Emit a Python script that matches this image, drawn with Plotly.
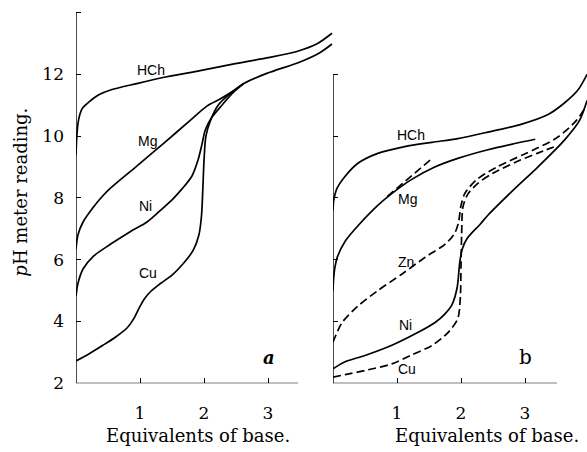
import plotly.graph_objects as go

# ---------------- data ----------------
# panel a
hch_a_x = [0, 0.01, 0.03, 0.06, 0.1, 0.2, 0.35, 0.55, 0.95, 1.42, 1.94, 2.45, 2.98, 3.45, 3.76, 4.0]
hch_a_y = [9.4, 9.9, 10.4, 10.7, 10.9, 11.1, 11.33, 11.5, 11.7, 11.92, 12.12, 12.33, 12.53, 12.74, 12.98, 13.33]

mg_a_x = [0, 0.03, 0.11, 0.27, 0.42, 0.53, 0.95, 1.36, 1.78, 2.05, 2.25, 2.45, 2.62, 2.98, 3.5, 3.81, 4.0]
mg_a_y = [6.34, 6.8, 7.22, 7.7, 8.07, 8.3, 9.03, 9.75, 10.5, 10.98, 11.2, 11.45, 11.7, 12.03, 12.4, 12.7, 12.98]

ni_a_x = [0, 0.03, 0.11, 0.27, 0.53, 0.84, 1.11, 1.31, 1.52, 1.66, 1.81, 1.91, 1.97, 2.02, 2.12, 2.28, 2.45, 2.62]
ni_a_y = [4.82, 5.23, 5.7, 6.11, 6.49, 6.9, 7.22, 7.58, 7.98, 8.3, 8.7, 9.25, 9.75, 10.2, 10.6, 11.0, 11.4, 11.7]

cu_a_x = [0, 0.2, 0.42, 0.62, 0.8, 0.91, 0.99, 1.07, 1.17, 1.32, 1.5, 1.67, 1.83, 1.92, 1.96, 1.98, 2.0, 2.03, 2.1, 2.22, 2.42, 2.62]
cu_a_y = [2.72, 2.95, 3.23, 3.5, 3.8, 4.12, 4.45, 4.74, 4.98, 5.23, 5.5, 5.86, 6.3, 6.8, 7.4, 8.2, 9.2, 10.0, 10.5, 11.0, 11.4, 11.7]

# panel b
hch_b_x = [0, 0.01, 0.03, 0.06, 0.19, 0.39, 0.7, 1.12, 1.55, 1.95, 2.42, 2.95, 3.36, 3.62, 3.83, 3.97]
hch_b_y = [7.6, 7.9, 8.1, 8.3, 8.7, 9.12, 9.44, 9.66, 9.8, 9.92, 10.13, 10.39, 10.7, 11.08, 11.5, 12.0]

mg_b_x = [0, 0.01, 0.03, 0.07, 0.19, 0.39, 0.7, 1.02, 1.23, 1.59, 1.95, 2.42, 2.84, 3.16]
mg_b_y = [5.0, 5.4, 5.75, 6.1, 6.6, 7.1, 7.76, 8.3, 8.6, 9.0, 9.28, 9.56, 9.76, 9.9]

mg_ext_x = [0.85, 1.56]
mg_ext_y = [8.05, 9.3]

zn_b_x = [0, 0.14, 0.39, 0.7, 1.08, 1.44, 1.75, 1.9, 1.96, 2.0, 2.06, 2.25, 2.56, 2.97, 3.2, 3.5, 3.8, 3.95]
zn_b_y = [3.33, 3.96, 4.5, 5.0, 5.54, 6.08, 6.5, 6.85, 7.2, 7.75, 8.15, 8.6, 9.0, 9.4, 9.62, 9.95, 10.5, 10.95]

cu_b_x = [0, 0.19, 0.55, 0.92, 1.23, 1.55, 1.8, 1.95, 1.99, 2.0, 2.01, 2.03, 2.1, 2.25, 2.5, 2.9, 3.2, 3.45]
cu_b_y = [2.2, 2.28, 2.44, 2.63, 2.92, 3.23, 3.65, 4.1, 4.8, 5.8, 6.8, 7.7, 8.1, 8.45, 8.8, 9.2, 9.45, 9.65]

ni_b_x = [0, 0.19, 0.5, 0.92, 1.33, 1.59, 1.75, 1.86, 1.94, 1.98, 2.02, 2.1, 2.3, 2.42, 2.84, 3.2, 3.62, 3.85, 3.97]
ni_b_y = [2.47, 2.7, 2.9, 3.23, 3.65, 3.96, 4.25, 4.55, 5.1, 5.9, 6.35, 6.7, 7.15, 7.44, 8.3, 9.0, 9.88, 10.5, 11.15]

x_ticks = [1, 2, 3]
y_ticks = [2, 4, 6, 8, 10, 12, 14]
y_ticktext = ["2", "4", "6", "8", "10", "12", ""]
y2_ticks = [4, 6, 8, 10, 12]

labels_a = [("HCh", 1.17, 12.13), ("Mg", 1.11, 9.85), ("Ni", 1.08, 7.73), ("Cu", 1.13, 5.58)]
labels_b = [("HCh", 1.22, 10.04), ("Mg", 1.16, 7.98), ("Zn", 1.14, 5.92), ("Ni", 1.13, 3.9), ("Cu", 1.16, 2.47)]

# ---------------- figure ----------------
W, H = 587, 452
LW = 1.7
fig = go.Figure()

def add(x, y, xa, ya, dash="solid"):
    fig.add_trace(go.Scatter(x=x, y=y, xaxis=xa, yaxis=ya, mode="lines",
                             line=dict(color="black", width=LW, dash=dash,
                                       shape="spline", smoothing=0.8),
                             hoverinfo="skip", showlegend=False))

add(hch_a_x, hch_a_y, "x", "y")
add(mg_a_x, mg_a_y, "x", "y")
add(ni_a_x, ni_a_y, "x", "y")
add(cu_a_x, cu_a_y, "x", "y")

DASH = "8px,4px"
add(hch_b_x, hch_b_y, "x2", "y2")
add(mg_b_x, mg_b_y, "x2", "y2")
add(mg_ext_x, mg_ext_y, "x2", "y2", DASH)
add(zn_b_x, zn_b_y, "x2", "y2", DASH)
add(cu_b_x, cu_b_y, "x2", "y2", DASH)
add(ni_b_x, ni_b_y, "x2", "y2")

# pixel geometry
x0a, x0b, pxu = 76, 333, 64.0
y_bot_px, pxy = 392, 31.6
y_top_val = 2 + y_bot_px / pxy
ydom = [(H - y_bot_px) / H, 1]

serif = "DejaVu Serif"
sans = "Liberation Sans"

common_x = dict(tickvals=x_ticks, ticks="inside", ticklen=5, tickcolor="black",
                showline=False, showgrid=False, zeroline=False,
                tickfont=dict(family=serif, size=17, color="black"),
                ticklabelstandoff=18)
fig.update_layout(
    width=W, height=H, margin=dict(l=0, r=0, t=0, b=0),
    paper_bgcolor="white", plot_bgcolor="white",
    xaxis=dict(domain=[x0a / W, x0b / W], range=[0, (x0b - x0a) / pxu], anchor="y", **common_x),
    xaxis2=dict(domain=[x0b / W, 1], range=[0, (W - x0b) / pxu], anchor="y2", **common_x),
    yaxis=dict(domain=ydom, range=[2, y_top_val], anchor="x", tickvals=y_ticks, ticktext=y_ticktext,
               ticks="inside", ticklen=5, tickcolor="black", showline=False, showgrid=False,
               zeroline=False, tickfont=dict(family=serif, size=17, color="black"),
               ticklabelstandoff=11),
    yaxis2=dict(domain=ydom, range=[2, y_top_val], anchor="x2", tickvals=y2_ticks,
                ticks="inside", ticklen=5, tickcolor="black", showticklabels=False,
                showline=False, showgrid=False, zeroline=False),
)

# axis lines
line = dict(color="black", width=1.4)
fig.add_shape(type="line", xref="x", yref="y", x0=0, x1=0, y0=2, y1=14, line=line)
fig.add_shape(type="line", xref="x", yref="y", x0=0, x1=3.47, y0=2, y1=2, line=line)
fig.add_shape(type="line", xref="x2", yref="y2", x0=0, x1=0, y0=2, y1=12, line=line)
fig.add_shape(type="line", xref="x2", yref="y2", x0=0, x1=3.5, y0=2, y1=2, line=line)

for t, x, y in labels_a:
    fig.add_annotation(text=t, x=x, y=y, xref="x", yref="y", showarrow=False,
                       font=dict(family=sans, size=14, color="black"))
for t, x, y in labels_b:
    fig.add_annotation(text=t, x=x, y=y, xref="x2", yref="y2", showarrow=False,
                       font=dict(family=sans, size=14, color="black"))

fig.add_annotation(text="<i><b>a</b></i>", x=3.02, y=2.82, xref="x", yref="y", showarrow=False,
                   font=dict(family=serif, size=18, color="black"))
fig.add_annotation(text="b", x=3.0, y=2.85, xref="x2", yref="y2", showarrow=False,
                   font=dict(family=serif, size=20, color="black"))

for cx in (198, 487):
    fig.add_annotation(text="Equivalents of base.", x=cx / W, y=0, xref="paper", yref="paper",
                       xanchor="center", yanchor="bottom", yshift=-6, showarrow=False,
                       font=dict(family=serif, size=18, color="black"))
fig.add_annotation(text="<i>p</i>H meter reading.", x=21 / W, y=1 - 197 / H, xref="paper", yref="paper",
                   xanchor="center", yanchor="middle", showarrow=False, textangle=-90,
                   font=dict(family=serif, size=18, color="black"))

fig.write_html("out.html")
